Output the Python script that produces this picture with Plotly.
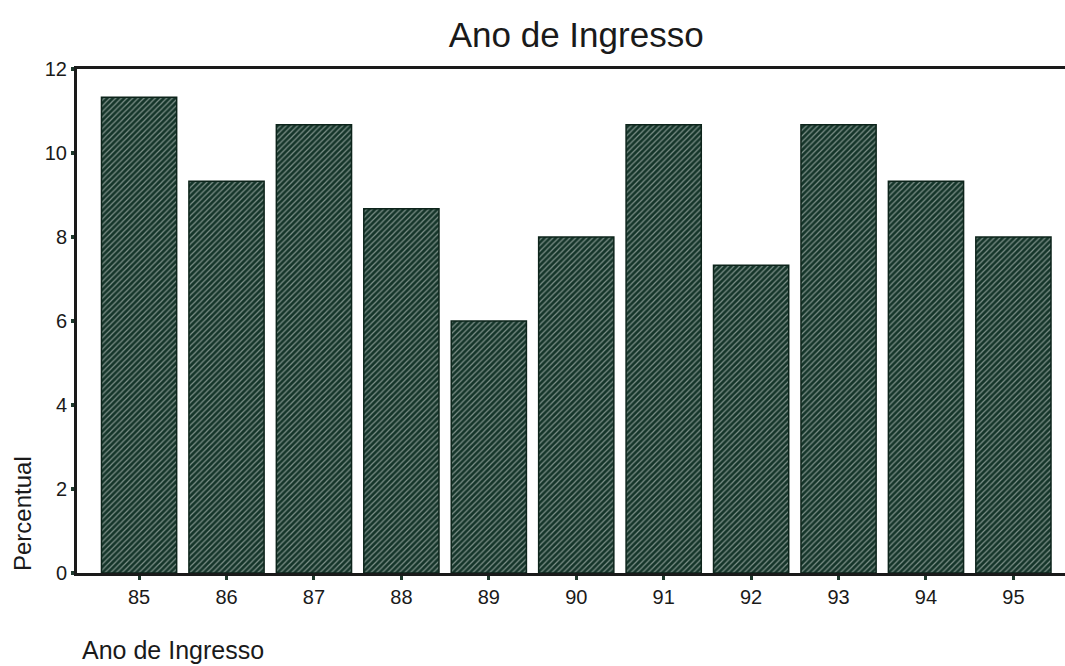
import plotly.graph_objects as go

# Ano de ingresso (year of entry) and the share of students for each year
anos = ["85", "86", "87", "88", "89", "90", "91", "92", "93", "94", "95"]
percentual = [11.33, 9.33, 10.67, 8.67, 6.0, 8.0, 10.67, 7.33, 10.67, 9.33, 8.0]
y_ticks = [0, 2, 4, 6, 8, 10, 12]

ink = "#1a1a1a"
bar_dark = "#15352a"
hatch = "#e6ece8"
font_family = "Liberation Sans, Arial, sans-serif"

fig = go.Figure(
    go.Bar(
        x=anos,
        y=percentual,
        marker=dict(
            color=bar_dark,
            line=dict(color="#0d241b", width=1.5),
            pattern=dict(
                shape="/",
                bgcolor=bar_dark,
                fgcolor=hatch,
                size=4,
                solidity=0.3,
            ),
        ),
        hoverinfo="x+y",
    )
)

fig.update_layout(
    width=1065,
    height=666,
    paper_bgcolor="white",
    plot_bgcolor="white",
    margin=dict(l=77, r=0, t=69, b=93),
    bargap=0.14,
    showlegend=False,
    font=dict(family=font_family, color=ink),
    title=dict(
        text="Ano de Ingresso",
        font=dict(size=35, family=font_family, color=ink),
        xref="container",
        x=0.541,
        xanchor="center",
        yref="container",
        y=1 - 35 / 666,
        yanchor="middle",
    ),
    xaxis=dict(
        type="category",
        range=[-0.71, 10.59],
        showline=True,
        linecolor=ink,
        linewidth=3,
        mirror=True,
        ticks="outside",
        ticklen=4,
        tickwidth=3,
        tickcolor="#1f3a2e",
        showgrid=False,
        zeroline=False,
        tickfont=dict(size=20, color=ink),
    ),
    yaxis=dict(
        range=[0, 12],
        tickvals=y_ticks,
        showline=True,
        linecolor=ink,
        linewidth=3,
        ticks="outside",
        ticklen=3,
        tickwidth=4,
        tickcolor="#1f3a2e",
        showgrid=False,
        zeroline=False,
        tickfont=dict(size=20, color=ink),
    ),
    annotations=[
        dict(
            text="Percentual",
            textangle=-90,
            xref="paper",
            yref="paper",
            x=(22 - 77) / 988,
            y=(573 - 514) / 504,
            xanchor="center",
            yanchor="middle",
            showarrow=False,
            font=dict(size=24, color=ink),
        ),
        dict(
            text="Ano de Ingresso",
            xref="paper",
            yref="paper",
            x=(80 - 77) / 988,
            y=(573 - 650) / 504,
            xanchor="left",
            yanchor="middle",
            showarrow=False,
            font=dict(size=25, color=ink),
        ),
    ],
)

fig.write_html("out.html")
